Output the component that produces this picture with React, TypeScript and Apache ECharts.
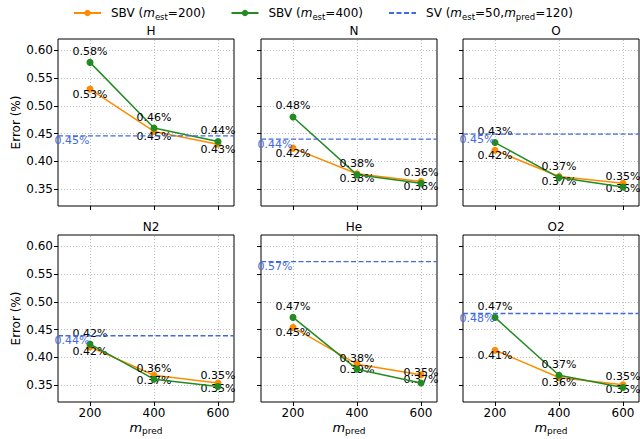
import React, { useEffect, useRef } from 'react';
import * as echarts from 'echarts';

const panels = ['H', 'N', 'O', 'N2', 'He', 'O2'];
const mPred = [200, 400, 600];
const sbv200 = [
  [0.530, 0.454, 0.431],
  [0.424, 0.378, 0.364],
  [0.420, 0.373, 0.361],
  [0.419, 0.368, 0.354],
  [0.454, 0.388, 0.369],
  [0.413, 0.364, 0.351],
];
const sbv400 = [
  [0.578, 0.460, 0.436],
  [0.480, 0.376, 0.361],
  [0.434, 0.371, 0.354],
  [0.424, 0.361, 0.348],
  [0.472, 0.379, 0.354],
  [0.472, 0.368, 0.346],
];
const svValues = [0.446, 0.440, 0.449, 0.439, 0.572, 0.479];
const xTicks = [200, 400, 600];
const yTicks = [0.35, 0.40, 0.45, 0.50, 0.55, 0.60];
const xRange = [100, 650];
const yRange = [0.32, 0.62];

const FONT = 'DejaVu Sans';
const ORANGE = '#ff8c00';
const GREEN = '#228b22';
const BLUE = '#4169e1';

const LEFTS = [58, 261, 463];
const TOPS = [39, 235];
const W = 176;
const H = 167;

const legendLabels: Record<string, string> = {
  SBV200: '{n|SBV (}{i|m}{s|est}{n|=200)}',
  SBV400: '{n|SBV (}{i|m}{s|est}{n|=400)}',
  SV: '{n|SV (}{i|m}{s|est}{n|=50,}{i|m}{s|pred}{n|=120)}',
};

const rich = {
  n: { fontSize: 12, lineHeight: 16, color: '#000', fontFamily: FONT },
  i: { fontSize: 12, lineHeight: 16, fontStyle: 'italic', color: '#000', fontFamily: FONT },
  s: { fontSize: 8.5, verticalAlign: 'bottom', color: '#000', fontFamily: FONT },
};

const pct = (v: number) => v.toFixed(2) + '%';

function buildOption() {
  const grid: any[] = [];
  const xAxis: any[] = [];
  const yAxis: any[] = [];
  const series: any[] = [];
  const title: any[] = [];

  panels.forEach((p, i) => {
    const col = i % 3;
    const row = Math.floor(i / 3);
    grid.push({
      left: LEFTS[col],
      top: TOPS[row],
      width: W,
      height: H,
      show: true,
      borderColor: '#000',
      borderWidth: 1,
      backgroundColor: 'transparent',
      containLabel: false,
      outerBoundsMode: 'none',
      z: 1,
    });
    title.push({
      text: p,
      left: LEFTS[col] + W / 2,
      top: row === 0 ? 20 : 216,
      textAlign: 'center',
      textStyle: { fontSize: 12, fontWeight: 'normal', color: '#000', fontFamily: FONT },
    });
    xAxis.push({
      type: 'value',
      gridIndex: i,
      min: xRange[0],
      max: xRange[1],
      axisLine: { show: false, onZero: false },
      splitLine: { show: false },
      axisTick: { show: true, inside: false, length: 4, customValues: xTicks, lineStyle: { color: '#000', width: 1 } },
      axisLabel: {
        show: row === 1,
        customValues: xTicks,
        margin: 5,
        fontSize: 12,
        color: '#000',
        fontFamily: FONT,
      },
      name: row === 1 ? '{i|m}{s|pred}' : '',
      nameLocation: 'middle',
      nameGap: 17,
      nameTextStyle: {
        rich: {
          i: { fontSize: 13, lineHeight: 16, fontStyle: 'italic', color: '#000', fontFamily: FONT },
          s: { fontSize: 9, verticalAlign: 'bottom', color: '#000', fontFamily: FONT },
        },
      },
    });
    yAxis.push({
      type: 'value',
      gridIndex: i,
      min: yRange[0],
      max: yRange[1],
      axisLine: { show: false, onZero: false },
      splitLine: { show: false },
      axisTick: { show: true, inside: false, length: 4, customValues: yTicks, lineStyle: { color: '#000', width: 1 } },
      axisLabel: {
        show: col === 0,
        customValues: yTicks,
        margin: 5,
        fontSize: 12,
        color: '#000',
        fontFamily: FONT,
        formatter: (v: number) => v.toFixed(2),
      },
      name: col === 0 ? 'Error (%)' : '',
      nameLocation: 'middle',
      nameGap: 34,
      nameRotate: 90,
      nameTextStyle: { fontSize: 12, color: '#000', fontFamily: FONT },
    });

    // grid lines
    series.push({
      type: 'line',
      xAxisIndex: i,
      yAxisIndex: i,
      data: [],
      silent: true,
      z: 0,
      markLine: {
        silent: true,
        z: 0,
        symbol: ['none', 'none'],
        label: { show: false },
        lineStyle: { type: [1, 2], color: '#b0b0b0', width: 0.8 },
        emphasis: { disabled: true },
        data: [
          ...xTicks.map((v) => ({ xAxis: v })),
          ...yTicks.map((v) => ({ yAxis: v })),
        ],
      },
    });

    series.push({
      name: 'SBV200',
      type: 'line',
      xAxisIndex: i,
      yAxisIndex: i,
      data: mPred.map((x, j) => [x, sbv200[i][j]]),
      color: ORANGE,
      lineStyle: { width: 1.5, color: ORANGE },
      itemStyle: { color: ORANGE },
      symbol: 'circle',
      symbolSize: 7,
      z: 2,
      label: {
        show: true,
        position: 'inside',
        offset: [0, 5],
        fontSize: 11,
        color: '#000',
        fontFamily: FONT,
        formatter: (pr: any) => pct(pr.value[1]),
      },
    });
    series.push({
      name: 'SBV400',
      type: 'line',
      xAxisIndex: i,
      yAxisIndex: i,
      data: mPred.map((x, j) => [x, sbv400[i][j]]),
      color: GREEN,
      lineStyle: { width: 1.5, color: GREEN },
      itemStyle: { color: GREEN },
      symbol: 'circle',
      symbolSize: 7,
      z: 3,
      label: {
        show: true,
        position: 'inside',
        offset: [0, -11],
        fontSize: 11,
        color: '#000',
        fontFamily: FONT,
        formatter: (pr: any) => pct(pr.value[1]),
      },
    });
    series.push({
      name: 'SV',
      type: 'line',
      xAxisIndex: i,
      yAxisIndex: i,
      data: [
        [xRange[0], svValues[i]],
        [xRange[1], svValues[i]],
      ],
      color: BLUE,
      symbol: 'none',
      showSymbol: false,
      lineStyle: { width: 1.3, color: BLUE, type: [5, 2.5] },
      z: 4,
      markPoint: {
        symbol: 'circle',
        symbolSize: 1,
        itemStyle: { color: 'rgba(0,0,0,0)' },
        silent: true,
        label: {
          show: true,
          position: 'left',
          distance: 0,
          offset: [0, 5],
          fontSize: 11,
          color: BLUE,
          fontFamily: FONT,
          formatter: (pr: any) => pct(pr.value),
        },
        data: [{ coord: [mPred[0], svValues[i]], value: svValues[i] }],
      },
    });
  });

  return {
    animation: false,
    backgroundColor: '#fff',
    textStyle: { fontFamily: FONT },
    title,
    legend: {
      data: ['SBV200', 'SBV400', { name: 'SV', itemStyle: { opacity: 0 } }],
      left: 68,
      top: 2,
      itemWidth: 27,
      itemHeight: 8,
      itemGap: 25,
      formatter: (name: string) => legendLabels[name],
      textStyle: { rich, padding: [0, 0, 0, 5] },
    },
    grid,
    xAxis,
    yAxis,
    series,
  };
}

export default function App() {
  const ref = useRef<HTMLDivElement>(null);
  useEffect(() => {
    if (!ref.current) return;
    const chart = echarts.init(ref.current, undefined, { renderer: 'svg' });
    chart.setOption(buildOption() as any);
    return () => chart.dispose();
  }, []);
  return (
    <div
      ref={ref}
      style={{ position: 'fixed', left: 0, top: 0, width: 640, height: 439 }}
    />
  );
}
